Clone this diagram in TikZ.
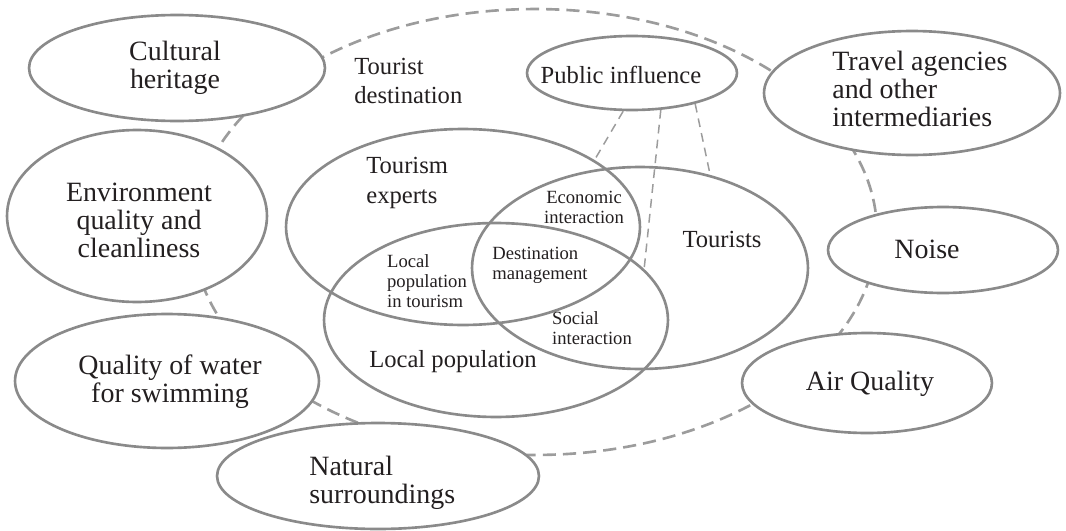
\documentclass[tikz,border=0pt]{standalone}
\usepackage{fontspec}
\setmainfont{Liberation Serif}
\usetikzlibrary{shapes.geometric}
\definecolor{EdgeGray}{HTML}{8A8A8A}
\definecolor{DashGray}{HTML}{9C9C9C}
\definecolor{InkBlack}{HTML}{231F20}

\begin{document}
\begin{tikzpicture}[x=0.02cm, y=-0.02cm,
    blob/.style={shape=ellipse, draw=EdgeGray, line width=1.5pt, inner sep=0pt},
    outer/.style={blob, fill=white},
    bigtxt/.style={font=\fontsize{15.9}{16}\selectfont, text=InkBlack, align=center, inner sep=0pt},
    midtxt/.style={font=\fontsize{14}{16.6}\selectfont, text=InkBlack, align=left, inner sep=0pt},
    smalltxt/.style={font=\fontsize{10.6}{11.3}\selectfont, text=InkBlack, align=left, inner sep=0pt},
    link/.style={draw=DashGray, line width=0.85pt, dash pattern=on 5pt off 3.5pt}]

  \path[use as bounding box] (0,0) rectangle (1066,531);

  % tourist destination
  \node[name=dest, shape=ellipse, draw=DashGray, line width=1.5pt,
    dash pattern=on 7.5pt off 4pt,
    minimum width=13.68cm, minimum height=8.92cm] at (535,232) {};

  % stakeholders inside
  \node[name=experts, blob, minimum width=7.08cm, minimum height=3.92cm] at (463,227) {};
  \node[name=tourists, blob, minimum width=6.72cm, minimum height=4.04cm] at (640,268) {};
  \node[name=local, blob, minimum width=6.88cm, minimum height=3.88cm] at (496,320) {};

  % factors round the destination
  \node[name=cult, outer, minimum width=5.92cm, minimum height=2.12cm] at (177,68) {};
  \node[name=env, outer, minimum width=5.2cm, minimum height=3.44cm] at (137,216) {};
  \node[name=water, outer, minimum width=6.08cm, minimum height=2.68cm] at (167,381) {};
  \node[name=nat, outer, minimum width=6.44cm, minimum height=2.12cm] at (378,476) {};
  \node[name=air, outer, minimum width=5cm, minimum height=2cm] at (867,383) {};
  \node[name=noise, outer, minimum width=4.6cm, minimum height=1.72cm] at (943,250) {};
  \node[name=travel, outer, minimum width=5.92cm, minimum height=2.48cm] at (912,93) {};
  \node[name=pub, outer, minimum width=4.2cm, minimum height=1.48cm] at (632,73) {};

  \path[link] (pub.257) -- (experts.27);
  \path[link] (pub.308) -- (local.19);
  \path[link] (pub.334) -- (tourists.53);

  % labels
  \node[name=cultlbl, bigtxt] at (175,68) {Cultural\\heritage};
  \node[name=envlbl, bigtxt] at (139,220) {Environment\\quality and\\cleanliness};
  \node[name=waterlbl, bigtxt] at (170,382) {Quality of water\\for swimming};
  \node[name=natlbl, bigtxt, align=left, anchor=west] at (309,483) {Natural\\surroundings};
  \node[name=airlbl, bigtxt] at (870,384) {Air Quality};
  \node[name=noiselbl, bigtxt] at (927,249) {Noise};
  \node[name=travellbl, bigtxt, align=left, anchor=west] at (832,89) {Travel agencies\\and other\\intermediaries};

  \node[name=publbl, midtxt] at (621,75) {Public influence};
  \node[name=destlbl, midtxt, anchor=west] at (354,81) {Tourist\\destination};
  \node[name=expertslbl, midtxt, anchor=west] at (366,183) {Tourism\\experts};
  \node[name=touristslbl, midtxt] at (722,239) {Tourists};
  \node[name=locallbl, midtxt] at (453,362) {Local population};

  \node[name=ecolbl, smalltxt, align=center] at (584,207) {Economic\\interaction};
  \node[name=mgmtlbl, smalltxt] at (540,265) {Destination\\management};
  \node[name=inlbl, smalltxt] at (427,281) {Local\\population\\in tourism};
  \node[name=soclbl, smalltxt] at (592,328) {Social\\interaction};
\end{tikzpicture}
\end{document}
